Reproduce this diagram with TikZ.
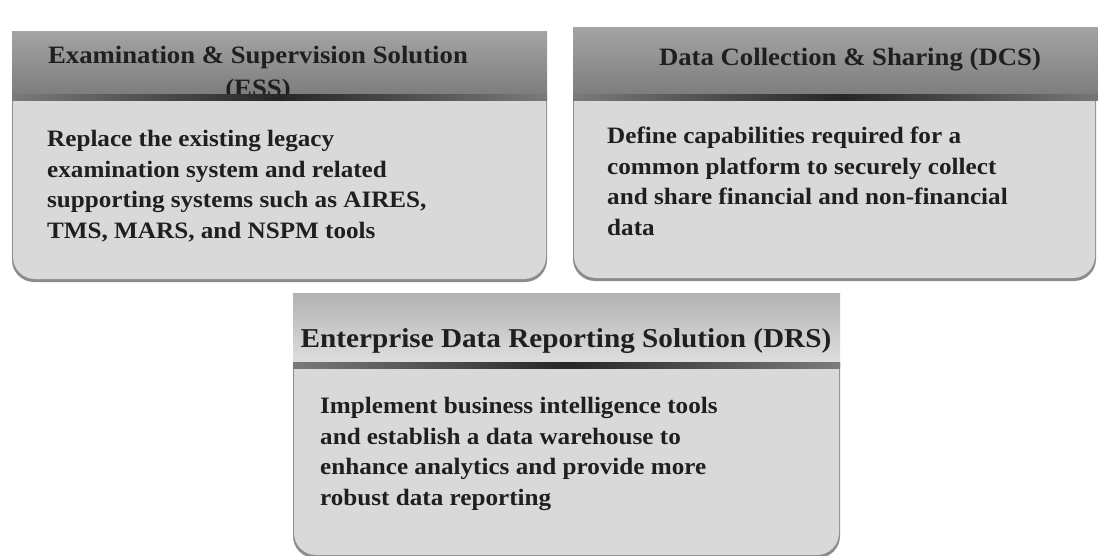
\documentclass[tikz,border=0pt]{standalone}
\usepackage{fontspec}
\setmainfont{Liberation Serif}[FakeStretch=1.07]
\definecolor{bodyfill}{gray}{0.85}
\definecolor{bodyedge}{gray}{0.55}
\definecolor{hdrtop}{gray}{0.64}
\definecolor{hdrbot}{gray}{0.48}
\definecolor{hdrtopc}{gray}{0.70}
\definecolor{hdrbotc}{gray}{0.88}
\definecolor{ink}{gray}{0.12}
\tikzset{
  titletext/.style={font=\fontsize{25}{33}\selectfont\bfseries, text=ink, align=center, inner sep=0pt},
  bigtitle/.style={titletext, font=\fontsize{27.3}{33}\selectfont\bfseries},
  bodytext/.style={font=\fontsize{23.5}{30.6}\selectfont\bfseries, text=ink, align=left, inner sep=0pt, anchor=north west},
  bodyshape/.style={fill=bodyfill, rounded corners=22pt},
  bodyshadow/.style={fill=bodyedge, rounded corners=22pt},
  hdrline/.style={left color=hdrbot, right color=hdrbot, middle color=black!85},
}
\begin{document}
\begin{tikzpicture}[x=1pt,y=-1pt]
\useasboundingbox (0,0) rectangle (1098,556);
\fill[white] (0,0) rectangle (1098,556);
\clip (0,0) rectangle (1098,556);

% ---------- Box 1: ESS ----------
\fill[bodyshadow] (12,80) rectangle (547,282);
\fill[bodyshape] (13,78) rectangle (546,279);
\shade[top color=hdrtop, bottom color=hdrbot] (12,32) rectangle (547,99);
\node[titletext, anchor=north] (t1) at (258,46) {Examination \& Supervision Solution\\(ESS)};
\shade[hdrline] (12,95) rectangle (547,101);
\node[bodytext] (b1) at (47,130) {Replace the existing legacy\\examination system and related\\supporting systems such as AIRES,\\TMS, MARS, and NSPM tools};

% ---------- Box 2: DCS ----------
\fill[bodyshadow] (573,80) rectangle (1096,281);
\fill[bodyshape] (574,78) rectangle (1095,278);
\shade[top color=hdrtop, bottom color=hdrbot] (573,28) rectangle (1110,99);
\node[titletext, anchor=north] (t2) at (850,48) {Data Collection \& Sharing (DCS)};
\shade[hdrline] (573,95) rectangle (1110,101);
\node[bodytext] (b2) at (607,127) {Define capabilities required for a\\common platform to securely collect\\and share financial and non-financial\\data};

% ---------- Box 3: DRS ----------
\fill[bodyshadow] (293,340) rectangle (840,558);
\fill[bodyshape] (294,338) rectangle (839,555);
\shade[top color=hdrtopc, bottom color=hdrbotc] (293,293) rectangle (840,366);
\node[bigtitle, anchor=north] (t3) at (566,328) {Enterprise Data Reporting Solution (DRS)};
\shade[hdrline] (293,362) rectangle (840,368);
\node[bodytext] (b3) at (320,397) {Implement business intelligence tools\\and establish a data warehouse to\\enhance analytics and provide more\\robust data reporting};
\end{tikzpicture}
\end{document}
